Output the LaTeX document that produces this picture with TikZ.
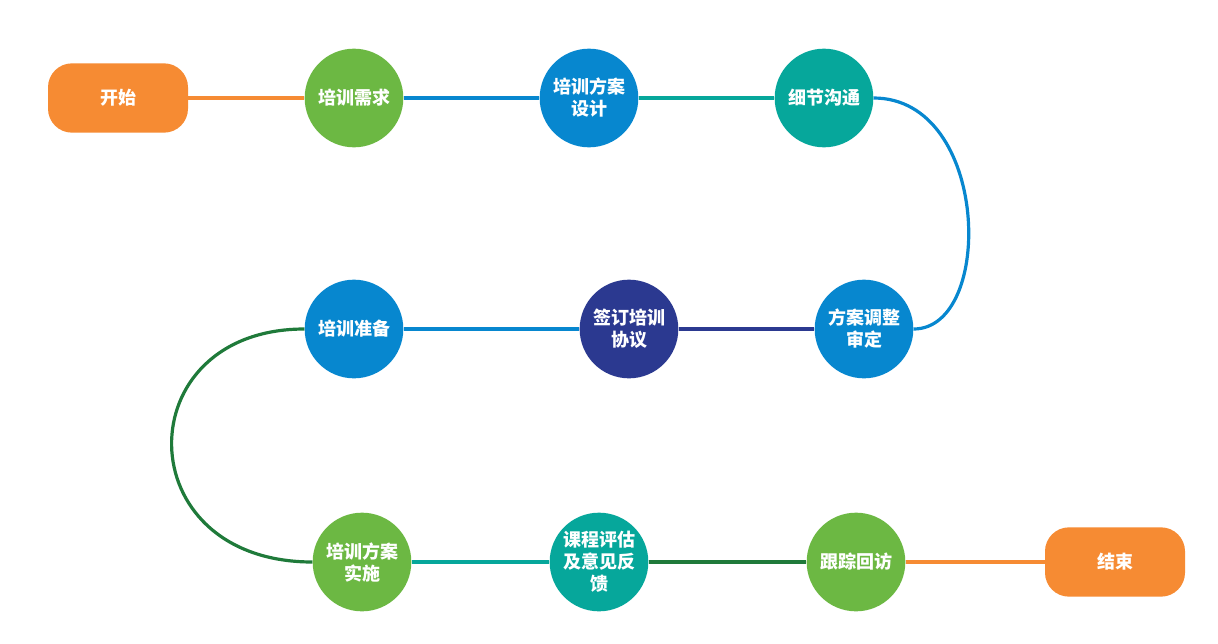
\documentclass[tikz,border=0pt]{standalone}
\usepackage{fontspec}
\newfontfamily\cjk{Noto Sans CJK SC}
\definecolor{flow_orange}{HTML}{F68B33}
\definecolor{flow_green}{HTML}{6CB843}
\definecolor{flow_blue}{HTML}{0787CF}
\definecolor{flow_teal}{HTML}{06A79B}
\definecolor{flow_navy}{HTML}{2B3990}
\definecolor{flow_dkgreen}{HTML}{1F7A3A}
\tikzset{
    term/.style={rounded corners=18pt, fill=flow_orange, minimum width=105pt, minimum height=52pt},
    proc/.style={circle, minimum size=74pt, inner sep=0pt},
    link/.style={line width=2.4pt},
}

\begin{document}
\begin{tikzpicture}[x=0.75pt,y=-0.75pt,
    every node/.style={text=white, align=center, font=\cjk\bfseries\fontsize{13.5}{16.5}\selectfont}]
    \useasboundingbox (0,0) rectangle (1218,643);
    \node (start) [term] at (118,98) {开始};
    \node (need) [proc,fill=flow_green] at (354,98) {培训需求};
    \node (design) [proc,fill=flow_blue] at (589,98) {培训方案\\设计};
    \node (detail) [proc,fill=flow_teal] at (824,98) {细节沟通};
    \node (adjust) [proc,fill=flow_blue] at (864,329) {方案调整\\审定};
    \node (sign) [proc,fill=flow_navy] at (629,329) {签订培训\\协议};
    \node (prepare) [proc,fill=flow_blue] at (354,329) {培训准备};
    \node (carry) [proc,fill=flow_green] at (362,562) {培训方案\\实施};
    \node (review) [proc,fill=flow_teal] at (599,562) {课程评估\\及意见反\\馈};
    \node (revisit) [proc,fill=flow_green] at (856,562) {跟踪回访};
    \node (finish) [term] at (1115,562) {结束};
    % row 1
    \draw [link,flow_orange] (start) -- (need);
    \draw [link,flow_blue] (need) -- (design);
    \draw [link,flow_teal] (design) -- (detail);
    \draw [link,flow_blue] (detail.east) .. controls (990,98) and (995,329) .. (adjust.east);
    % row 2
    \draw [link,flow_navy] (adjust) -- (sign);
    \draw [link,flow_blue] (sign) -- (prepare);
    \draw [link,flow_dkgreen] (prepare.west) .. controls (126,329) and (126,562) .. (carry.west);
    % row 3
    \draw [link,flow_teal] (carry) -- (review);
    \draw [link,flow_dkgreen] (review) -- (revisit);
    \draw [link,flow_orange] (revisit) -- (finish);
\end{tikzpicture}
\end{document}
